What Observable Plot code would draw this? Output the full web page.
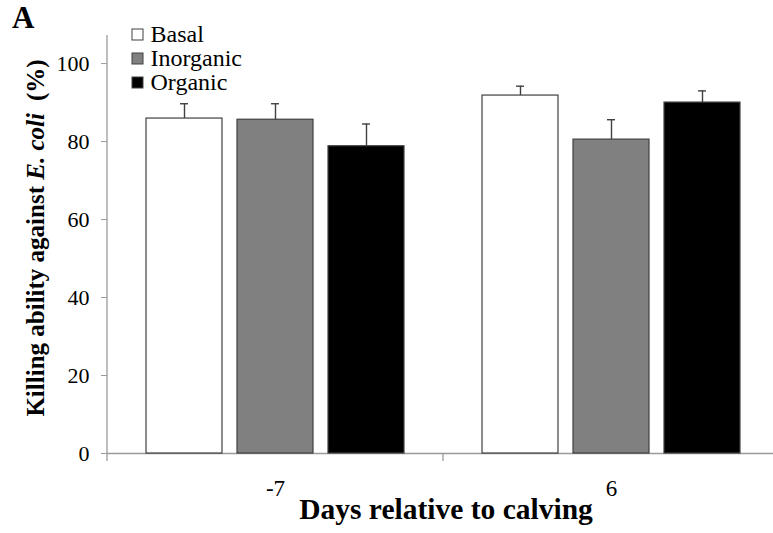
<!DOCTYPE html>
<html>
<head>
<meta charset="utf-8">
<script src="https://cdn.jsdelivr.net/npm/d3@7"></script>
<script src="https://cdn.jsdelivr.net/npm/@observablehq/plot@0.6"></script>
<style>
  html, body { margin: 0; padding: 0; background: #fff; }
  #chart { width: 773px; height: 533px; overflow: hidden; }
  #chart svg text, #chart svg tspan { font-family: 'Liberation Serif', 'Times New Roman', serif !important; }
</style>
</head>
<body>
<div id="chart"></div>
<script>
// Killing ability of blood neutrophils against E. coli (%), by trace-mineral diet
const days = ["-7", "6"];
const groups = ["Basal", "Inorganic", "Organic"];
const fills = ["#ffffff", "#808080", "#000000"];
const yTicks = [0, 20, 40, 60, 80, 100];

// Means and standard errors for each day (-7, 6)
const basal = [85.9, 91.8];
const basalSE = [3.8, 2.4];
const inorganic = [85.6, 80.5];
const inorganicSE = [4.1, 5.1];
const organic = [78.8, 90.0];
const organicSE = [5.7, 3.0];

const means = {Basal: basal, Inorganic: inorganic, Organic: organic};
const errors = {Basal: basalSE, Inorganic: inorganicSE, Organic: organicSE};

const rows = [];
days.forEach((day, i) => {
  groups.forEach(g => rows.push({day, group: g, value: means[g][i], se: errors[g][i]}));
});

const serif = "'Liberation Serif', 'Times New Roman', serif";
const axisGray = "#9a9a9a";
const edge = "#404040";

const chart = Plot.plot({
  width: 773,
  height: 533,
  marginLeft: 107,
  marginRight: -6,
  marginTop: 35,
  marginBottom: 80,
  style: {fontFamily: serif, fontSize: "22px", background: "#fff", color: "#000"},
  fx: {domain: days, padding: 0, label: null},
  x: {domain: groups, paddingInner: 0.163, paddingOuter: 0.41, axis: null},
  y: {domain: [0, 107.2], axis: null},
  color: {domain: groups, range: fills},
  marks: [
    Plot.ruleY([0], {stroke: axisGray, strokeWidth: 1.3}),
    Plot.barY(rows, {fx: "day", x: "group", y: "value", fill: "group", stroke: edge, strokeWidth: 1.2}),
    Plot.ruleX(rows, {fx: "day", x: "group", y1: "value", y2: d => d.value + d.se, stroke: edge, strokeWidth: 1.4}),
    Plot.tickY(rows, {fx: "day", x: "group", y: d => d.value + d.se, stroke: edge, strokeWidth: 1.4, insetLeft: 34, insetRight: 34}),
    Plot.axisY({ticks: yTicks, tickSize: 6, tickPadding: 12, stroke: axisGray, fill: "#000", fontSize: 22, label: null}),
    Plot.axisFx({anchor: "bottom", tickSize: 0, tickPadding: 26, fontSize: 23, fill: "#000", label: null})
  ]
});

document.getElementById("chart").appendChild(chart);

// Axis line and group-boundary ticks, placed from the chart's own scales
const svg = d3.select(chart);
const fx = chart.scale("fx");
const y = chart.scale("y");
const y0 = y.apply(0);
const yTop = y.apply(y.domain[1]);
const left = fx.range[0];
const step = (fx.range[1] - fx.range[0]) / days.length;

svg.append("line")
  .attr("x1", left).attr("x2", left)
  .attr("y1", yTop).attr("y2", y0 + 8)
  .attr("stroke", axisGray).attr("stroke-width", 1.3);

d3.range(1, days.length + 1).forEach(i => {
  svg.append("line")
    .attr("x1", left + i * step).attr("x2", left + i * step)
    .attr("y1", y0).attr("y2", y0 + 8)
    .attr("stroke", axisGray).attr("stroke-width", 1.3);
});

// Axis titles
svg.append("text")
  .attr("x", (fx.range[0] + fx.range[1]) / 2 + 3)
  .attr("y", 519)
  .attr("text-anchor", "middle")
  .attr("font-weight", "bold")
  .attr("font-size", 29.5)
  .text("Days relative to calving");

const yTitle = svg.append("text")
  .attr("transform", "translate(44,238) rotate(-90)")
  .attr("text-anchor", "middle")
  .attr("font-weight", "bold")
  .attr("font-size", 25);
yTitle.append("tspan").text("Killing ability against ");
yTitle.append("tspan").attr("font-style", "italic").text("E. coli");
yTitle.append("tspan").attr("dx", 12).text("(%)");

// Panel letter
svg.append("text")
  .attr("x", 12).attr("y", 27.5)
  .attr("text-anchor", "start")
  .attr("font-weight", "bold")
  .attr("font-size", 31)
  .text("A");

// Legend
const legend = svg.append("g").attr("transform", "translate(132,29)");
groups.forEach((g, i) => {
  const row = legend.append("g").attr("transform", `translate(0,${i * 24})`);
  row.append("rect")
    .attr("width", 11).attr("height", 11)
    .attr("fill", fills[i]).attr("stroke", edge).attr("stroke-width", 1);
  row.append("text")
    .attr("x", 18.5).attr("y", 12.7)
    .attr("text-anchor", "start")
    .attr("font-size", 24)
    .text(g);
});
</script>
</body>
</html>
